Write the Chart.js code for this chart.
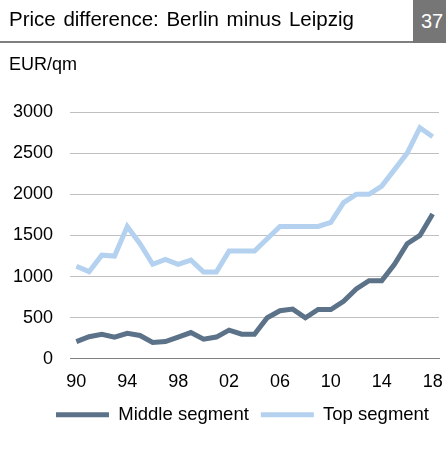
<!DOCTYPE html>
<html>
<head>
<meta charset="utf-8">
<script src="https://cdn.jsdelivr.net/npm/chart.js@4"></script>
<style>
  html, body { margin: 0; padding: 0; background: #fff; }
  body { width: 446px; height: 449px; position: relative; overflow: hidden; font-family: "Liberation Sans", Arial, sans-serif; }
  #title { position: absolute; left: 9px; top: 7px; font-size: 20.5px; color: #000; word-spacing: 2px; white-space: nowrap; }
  #rule { position: absolute; left: 0; top: 41px; width: 413px; height: 2px; background: #7f7f7f; }
  #page { position: absolute; left: 413px; top: 0; width: 33px; height: 43px; background: #767676; color: #fff; font-size: 20px; line-height: 43px; padding-left: 8px; box-sizing: border-box; }
  #unit { position: absolute; left: 9px; top: 54px; font-size: 18px; color: #000; }
  #wrap { position: absolute; left: 0; top: 0; width: 446px; height: 449px; }
</style>
</head>
<body>
<div id="wrap"><canvas id="c" width="446" height="449"></canvas></div>
<div id="title">Price difference: Berlin minus Leipzig</div>
<div id="rule"></div>
<div id="page">37</div>
<div id="unit">EUR/qm</div>
<script>
// Years 1990–2018, shown as two-digit labels
const years = ['90','91','92','93','94','95','96','97','98','99','00','01','02','03','04',
               '05','06','07','08','09','10','11','12','13','14','15','16','17','18'];
// Every fourth year carries a tick label
const shownYears = ['90','94','98','02','06','10','14','18'];

// Price gap in EUR per square metre
const middleSegment = [210, 270, 300, 265, 310, 285, 200, 210, 265, 320, 240, 265, 350, 300, 300,
                       500, 585, 605, 500, 600, 600, 700, 850, 950, 950, 1150, 1400, 1500, 1760];
const topSegment    = [1125, 1060, 1260, 1250, 1610, 1400, 1150, 1210, 1150, 1200, 1055, 1055, 1310, 1310, 1310,
                       1460, 1610, 1610, 1610, 1610, 1660, 1900, 2000, 2000, 2100, 2300, 2500, 2810, 2700];

const yTicks = [0, 500, 1000, 1500, 2000, 2500, 3000];

const darkBlue = '#5b7288';
const lightBlue = '#b4d2f0';
const font = { family: '"Liberation Sans", Arial, sans-serif', size: 18 };

// Nudge the legend row right of the canvas centre and up towards the axis
const legendShift = {
  id: 'legendShift',
  afterLayout(chart) {
    const lg = chart.legend;
    if (lg) {
      lg.left += 23; lg.right += 23;
      lg.top -= 11; lg.bottom -= 11;
    }
  }
};

new Chart(document.getElementById('c'), {
  type: 'line',
  data: {
    labels: years,
    datasets: [
      { label: 'Middle segment', data: middleSegment, borderColor: darkBlue, backgroundColor: darkBlue,
        borderWidth: 5, pointRadius: 0, tension: 0 },
      { label: 'Top segment', data: topSegment, borderColor: lightBlue, backgroundColor: lightBlue,
        borderWidth: 5, pointRadius: 0, tension: 0 }
    ]
  },
  plugins: [legendShift],
  options: {
    responsive: false,
    animation: false,
    layout: { padding: { left: 0, right: 7, top: 112, bottom: 4 } },
    plugins: {
      tooltip: { enabled: false },
      legend: {
        position: 'bottom',
        labels: {
          font: { family: font.family, size: 18.5 },
          color: '#000',
          boxWidth: 53,
          boxHeight: 5,
          padding: 12,
          generateLabels(chart) {
            return chart.data.datasets.map((ds, i) => ({
              text: ds.label,
              fillStyle: ds.borderColor,
              strokeStyle: ds.borderColor,
              lineWidth: 0,
              datasetIndex: i,
              fontColor: '#000'
            }));
          }
        }
      }
    },
    scales: {
      x: {
        type: 'category',
        offset: true,
        afterFit(scale) { scale.paddingLeft = 0; scale.paddingRight = 0; },
        grid: { display: false, drawTicks: false },
        border: { display: true, color: '#808080', width: 1 },
        ticks: {
          font: font,
          color: '#000',
          autoSkip: false,
          maxRotation: 0,
          padding: 12,
          callback(value, index) {
            const lab = years[index];
            return shownYears.includes(lab) ? lab : '';
          }
        }
      },
      y: {
        min: 0,
        max: 3000,
        afterBuildTicks(scale) { scale.ticks = yTicks.map(v => ({ value: v })); },
        afterFit(scale) { scale.width = 70; },
        grid: { color: '#c0c0c0', lineWidth: 1, drawTicks: false },
        border: { display: false },
        ticks: { font: font, color: '#000', padding: 17, callback: v => String(v) }
      }
    }
  }
});
</script>
</body>
</html>
